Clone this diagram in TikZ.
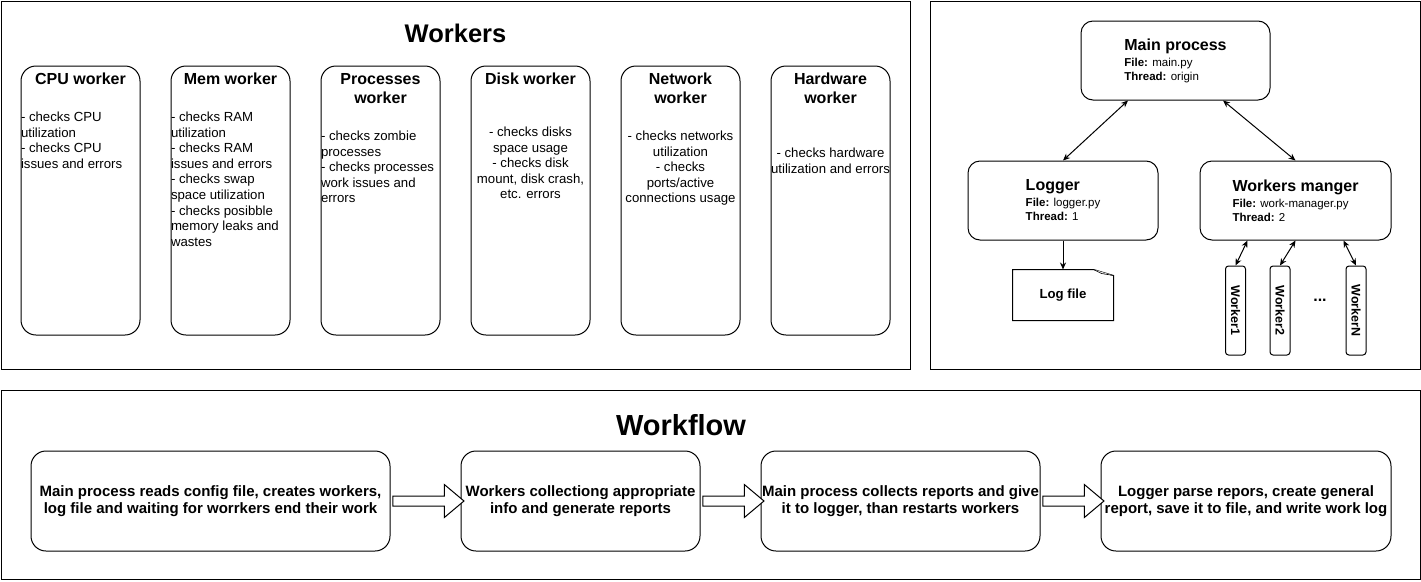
\documentclass[tikz,border=0pt]{standalone}
\usepackage{fontspec}
\setmainfont{Liberation Sans}
\usetikzlibrary{arrows.meta, calc, shapes.arrows, positioning}
\newcommand{\procname}[1]{{\fontsize{16}{16}\selectfont\bfseries #1}}
\tikzset{
	frame/.style={draw, inner sep=0pt},
	wbox/.style={draw, rounded corners=15pt, minimum width=119pt, minimum height=269pt, inner sep=0pt},
	wtitle/.style={anchor=north, align=center, inner sep=0pt, font=\fontsize{16}{19}\selectfont\bfseries},
	wtext/.style={inner sep=0pt, font=\fontsize{13.2}{15.6}\selectfont},
	pbox/.style={draw, rounded corners=12pt, minimum width=190pt, minimum height=79pt, inner sep=0pt, align=left, font=\fontsize{11.5}{14}\selectfont},
	worker/.style={draw, rounded corners=3pt, rotate=-90, minimum width=89pt, minimum height=20pt, inner sep=0pt, font=\fontsize{12.5}{15}\selectfont\bfseries},
	fbox/.style={draw, rounded corners=15pt, minimum height=100pt, inner sep=0pt, align=center, font=\fontsize{15}{17}\selectfont\bfseries},
	flow/.style={single arrow, draw, fill=white, minimum width=32pt, inner sep=4.5pt, single arrow head extend=11.5pt, single arrow tip angle=80}
}

\begin{document}
\begin{tikzpicture}[x=1pt, y=-1pt, line width=1pt, >={Stealth[length=7pt, width=6pt]}]
\useasboundingbox (0,0) rectangle (1421,581);

% frames
\node[frame, minimum width=909pt, minimum height=368pt] (F1) at (455.5,185) {};
\node[frame, minimum width=490pt, minimum height=368pt] (F2) at (1175,185) {};
\node[frame, minimum width=1419pt, minimum height=189pt] (F3) at (710.5,484.5) {};

% workers
\node[font=\fontsize{25.5}{30}\selectfont\bfseries] (T1) at (455.5,33) {Workers};
\foreach \i/\name in {0/{CPU worker}, 1/{Mem worker}, 2/{Processes\\worker}, 3/{Disk worker}, 4/{Network\\worker}, 5/{Hardware\\worker}} {
	\node[wbox] (W\i) at (80.5+150*\i, 200.5) {};
	\node[wtitle] (N\i) at ([yshift=-7]W\i.north) {\name};
}
\node[wtext, anchor=north west, align=left] (B0) at ([yshift=-46]W0.north west) {- checks CPU\\utilization\\- checks CPU\\issues and errors};
\node[wtext, anchor=north west, align=left] (B1) at ([yshift=-46]W1.north west) {- checks RAM\\utilization\\- checks RAM\\issues and errors\\- checks swap\\space utilization\\- checks posibble\\memory leaks and\\wastes};
\node[wtext, anchor=north west, align=left] (B2) at ([yshift=-65]W2.north west) {- checks zombie\\processes\\- checks processes\\work issues and\\errors};
\node[wtext, anchor=north, align=center] (B3) at ([yshift=-61]W3.north) {- checks disks\\space usage\\- checks disk\\mount, disk crash,\\etc. errors};
\node[wtext, anchor=north, align=center] (B4) at ([yshift=-65]W4.north) {- checks networks\\utilization\\- checks\\ports/active\\connections usage};
\node[wtext, anchor=north, align=center] (B5) at ([yshift=-82]W5.north) {- checks hardware\\utilization and errors};

% processes and threads
\node[pbox, minimum width=189pt] (main) at (1175.5,60.5) {\procname{Main process}\\[2pt]\textbf{File:} main.py\\\textbf{Thread:} origin};
\node[pbox] (logger) at (1063,200.5) {\procname{Logger}\\[2pt]\textbf{File:} logger.py\\\textbf{Thread:} 1};
\node[pbox, minimum width=191pt] (manager) at (1295.5,200.5) {\procname{Workers manger}\\[2pt]\textbf{File:} work-manager.py\\\textbf{Thread:} 2};

\node[minimum width=100pt, minimum height=50pt, inner sep=0pt, font=\fontsize{13.2}{15}\selectfont\bfseries] (log) at (1063,295) {Log file};
\draw (log.north west) -- ([xshift=-20]log.north east) -- ([yshift=-6]log.north east) -- (log.south east) -- (log.south west) -- cycle;
\draw[line width=0.6pt, fill=gray!15] ([xshift=-20]log.north east) -- ([xshift=-12,yshift=-4]log.north east) -- ([yshift=-6]log.north east);

\foreach \i/\x/\name in {1/1235.5/Worker1, 2/1280/Worker2, 3/1356/WorkerN}
	\node[worker] (P\i) at (\x,310.5) {\name};
\node[font=\fontsize{16}{16}\selectfont\bfseries] (dots) at (1320,300) {...};

\draw[<->] ($(main.south west)!.25!(main.south east)$) -- (logger.north);
\draw[<->] ($(main.south west)!.75!(main.south east)$) -- (manager.north);
\draw[->] (logger.south) -- (log.north);
\draw[<->] ($(manager.south west)!.25!(manager.south east)$) -- (P1.west);
\draw[<->] (manager.south) -- (P2.west);
\draw[<->] ($(manager.south west)!.75!(manager.south east)$) -- (P3.west);

% workflow
\node[font=\fontsize{29}{34}\selectfont\bfseries] (T2) at (681,425) {Workflow};
\node[fbox, minimum width=359pt] (S1) at (210.5,501) {Main process reads config file, creates workers,\\log file and waiting for worrkers end their work};
\node[fbox, minimum width=239pt] (S2) at (580.5,501) {Workers collectiong appropriate\\info and generate reports};
\node[fbox, minimum width=279pt] (S3) at (900.5,501) {Main process collects reports and give\\it to logger, than restarts workers};
\node[fbox, minimum width=290pt] (S4) at (1246,501) {Logger parse repors, create general\\report, save it to file, and write work log};
\node[flow, minimum height=71pt] (A1) at ($(S1.east)!.5!(S2.west)$) {};
\node[flow, minimum height=61pt] (A2) at ($(S2.east)!.5!(S3.west)$) {};
\node[flow, minimum height=61pt] (A3) at ($(S3.east)!.5!(S4.west)$) {};
\end{tikzpicture}
\end{document}
